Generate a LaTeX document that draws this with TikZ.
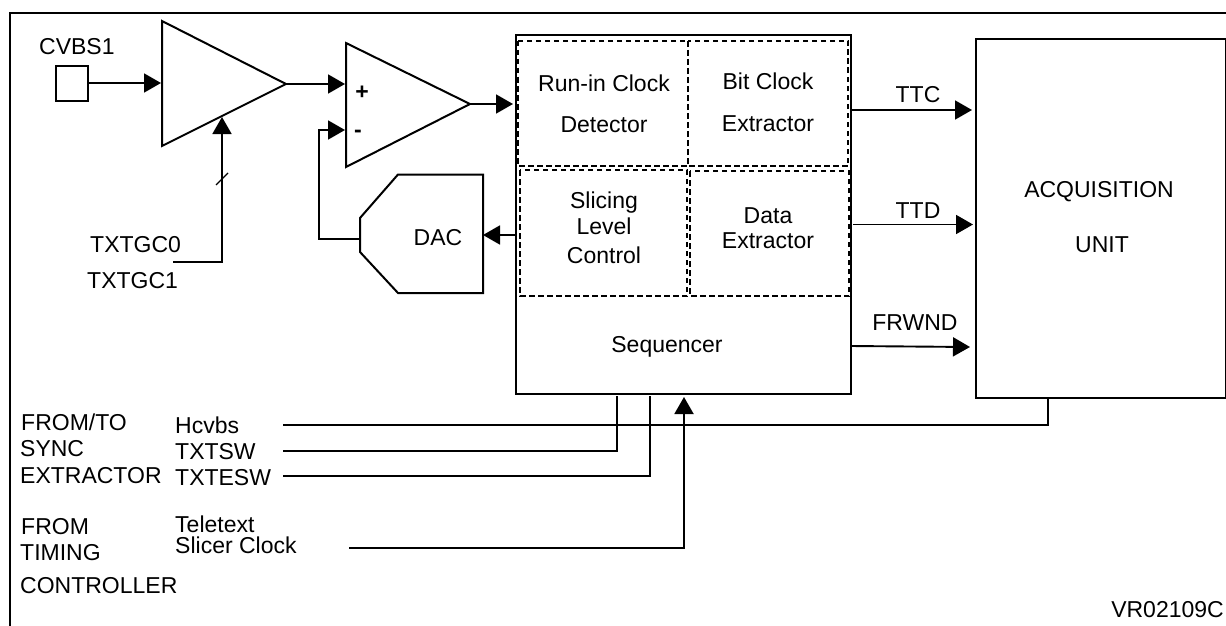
\documentclass[tikz,border=0pt]{standalone}
\usepackage{fontspec}
\setmainfont{Liberation Sans}
\usetikzlibrary{arrows.meta}
\tikzset{
  x=1pt,y=-1pt,
  wire/.style={line width=1.9pt,draw=black},
  thin wire/.style={line width=1.3pt,draw=black},
  arrowed/.style={wire,-{Triangle[length=17pt,width=19pt]}},
  shape box/.style={line width=2pt,draw=black},
  dash box/.style={line width=1.4pt,draw=black,dash pattern=on 5.5pt off 3.5pt},
  lab/.style={font=\fontsize{23}{26}\selectfont,inner sep=0pt,text=black},
  labl/.style={lab,anchor=west},
}
\begin{document}
\begin{tikzpicture}
\useasboundingbox (0,0) rectangle (1226,626);
% frame
\coordinate (fa) at (10,626);
\coordinate (fb) at (10,13);
\coordinate (fc) at (1226,13);
\draw[shape box] (fa) -- (fb) -- (fc);
% input pad
\node[shape box,minimum width=32pt,minimum height=35pt,inner sep=0pt,anchor=north west] (pad) at (54.5,65) {};
\node[labl] (cvbs) at (39,47) {CVBS1};
% amp 1
\coordinate (a1t) at (162,21);
\coordinate (a1b) at (162,146);
\coordinate (a1o) at (286,84);
\draw[shape box] (a1t) -- (a1o) -- (a1b) -- cycle;
\coordinate (a1i) at (161,83);
\coordinate (a1c) at (222,117);
% amp 2
\coordinate (a2t) at (346,43);
\coordinate (a2b) at (346,167);
\coordinate (a2o) at (470,104);
\draw[shape box] (a2t) -- (a2o) -- (a2b) -- cycle;
\coordinate (a2p) at (345,84);
\coordinate (a2m) at (345,130);
\node[lab,font=\bfseries\fontsize{23}{26}\selectfont] (plus) at (362,93) {+};
\node[lab,font=\bfseries\fontsize{23}{26}\selectfont] (minus) at (358,134) {-};
% DAC
\coordinate (d1) at (398,174.5);
\coordinate (d2) at (483,174.5);
\coordinate (d3) at (483,293);
\coordinate (d4) at (398,293);
\coordinate (d5) at (360,252);
\coordinate (d6) at (360,218);
\draw[shape box] (d1) -- (d2) -- (d3) -- (d4) -- (d5) -- (d6) -- cycle;
\node[lab] (dac) at (438,238) {DAC};
\coordinate (dacin) at (360,239);
\coordinate (dacr) at (483,235);
% main block
\node[shape box,minimum width=335pt,minimum height=359pt,inner sep=0pt,anchor=north west] (main) at (515,34) {};
% dashed blocks
\draw[dash box] (518,41) rectangle (688,166);
\draw[dash box] (688,41) rectangle (848,166);
\draw[dash box] (520,170) rectangle (687,296);
\draw[dash box] (690,171) rectangle (849,296);
\node[lab] (rn1) at (604,83) {Run-in Clock};
\node[lab] (rn2) at (604,125) {Detector};
\node[lab] (bc1) at (768,81) {Bit Clock};
\node[lab] (bc2) at (768,124) {Extractor};
\node[lab] (sl1) at (604,203) {Slicing};
\node[lab] (sl2) at (604,226) {Level};
\node[lab] (sl3) at (604,255) {Control};
\node[lab] (de1) at (768,216) {Data};
\node[lab] (de2) at (768,241) {Extractor};
\node[lab] (seq) at (667,347) {Sequencer};
% acquisition
\node[shape box,minimum width=250pt,minimum height=358pt,inner sep=0pt,anchor=north west] (acq) at (975,38.5) {};
\node[lab] (aq1) at (1099,192) {ACQUISITION};
\node[lab] (aq2) at (1102,245) {UNIT};
% connectors
\draw[arrowed] (pad.east |- a1i) -- (a1i);
\draw[arrowed] (a1o) -- (a2p);
\draw[arrowed] (a2o) -- (513,104);
\coordinate (fb1) at (319,130);
\coordinate (fb2) at (319,239);
\draw[arrowed] (dacin) -- (fb2) -- (fb1) -- (a2m);
\coordinate (gcs) at (173,262);
\coordinate (gcc) at (222,262);
\draw[arrowed] (gcs) -- (gcc) -- (a1c);
\coordinate (tick1) at (216,185);
\coordinate (tick2) at (228,173);
\draw[thin wire] (tick1) -- (tick2);
\draw[arrowed] (main.west |- dacr) -- (dacr);
% out arrows
\coordinate (ttc1) at (850,110);
\coordinate (ttc2) at (972,110);
\draw[arrowed] (ttc1) -- (ttc2);
\coordinate (ttd1) at (853,224.5);
\coordinate (ttd2) at (973,224.5);
\draw[arrowed] (ttd1) -- (ttd2);
\coordinate (fr1) at (850,346);
\coordinate (fr2) at (970,347);
\draw[arrowed] (fr1) -- (fr2);
\node[lab] (ttc) at (918,95) {TTC};
\node[lab] (ttd) at (918,211) {TTD};
\node[lab] (frw) at (915,323) {FRWND};
% lower wires
\coordinate (h1) at (283,425);
\coordinate (h2) at (1048,425);
\draw[wire] (h1) -- (h2) -- (acq.south -| h2);
\coordinate (s1) at (283,451);
\coordinate (s2) at (617,451);
\coordinate (s3) at (617,396);
\draw[wire] (s1) -- (s2) -- (s3);
\coordinate (e1) at (283,476);
\coordinate (e2) at (650,476);
\coordinate (e3) at (650,396);
\draw[wire] (e1) -- (e2) -- (e3);
\coordinate (c1) at (349,548);
\coordinate (c2) at (684,548);
\coordinate (c3) at (684,397);
\draw[arrowed] (c1) -- (c2) -- (c3);
% labels
\node[labl] (gc0) at (90,245) {TXTGC0};
\node[labl] (gc1) at (87,281) {TXTGC1};
\node[labl] (l1) at (21,422) {FROM/TO};
\node[labl] (l2) at (20,449) {SYNC};
\node[labl] (l3) at (20,476) {EXTRACTOR};
\node[labl] (l4) at (21,527) {FROM};
\node[labl] (l5) at (20,553) {TIMING};
\node[labl] (l6) at (20,586) {CONTROLLER};
\node[labl] (s4) at (175,425) {Hcvbs};
\node[labl] (s5) at (175,452) {TXTSW};
\node[labl] (s6) at (175,478) {TXTESW};
\node[labl] (t1) at (175,524) {Teletext};
\node[labl] (t2) at (175,545) {Slicer Clock};
\node[lab,anchor=east] (vr) at (1224,610) {VR02109C};
\end{tikzpicture}
\end{document}
